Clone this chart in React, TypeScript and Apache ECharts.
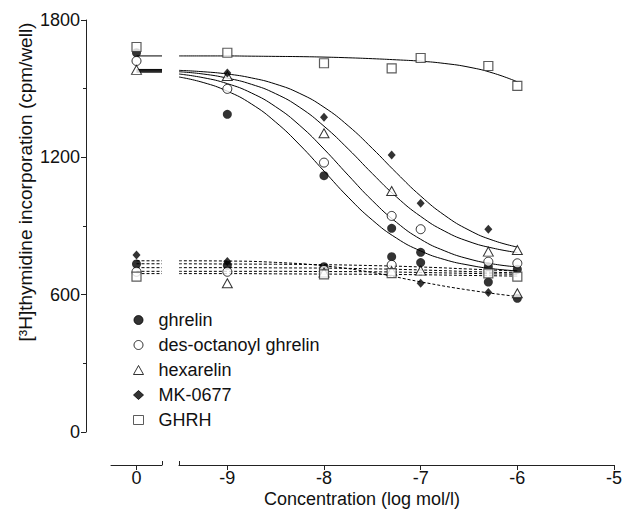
import React, { useEffect, useRef } from 'react';
import * as echarts from 'echarts';

const FONT = "'Liberation Sans', Arial, Helvetica, sans-serif";
const INK = '#111';

// compounds (legend order)
const NAMES = ['ghrelin', 'des-octanoyl ghrelin', 'hexarelin', 'MK-0677', 'GHRH'];

// concentrations (log mol/l)
const CONC = [-9, -8, -7.3, -7, -6.3, -6];
const X_TICKS = [-9, -8, -7, -6, -5];
const Y_TICK_STEP = 600;

// stimulated (upper) measurements: control value, then one per concentration
const CTRL_STIM = [1657, 1621, 1582, null, 1682];
const ghrelinStim = [1388, 1120, 890, 785, 722, 711];
const desStim = [1499, 1177, 944, 886, 744, 737];
const hexStim = [1555, 1305, 1053, null, 788, 795];
const mkStim = [1568, 1375, 1210, 999, 886, null];
const ghrhStim = [1657, 1611, 1589, 1634, 1599, 1512];

// basal (lower) measurements
const CTRL_BASAL = [734, 700, null, 773, 679];
const ghrelinBasal = [728, 722, 766, 740, 655, 584];
const desBasal = [700, 708, 730, null, null, null];
const hexBasal = [650, 697, 703, 705, null, 606];
const mkBasal = [745, null, null, 650, 609, null];
const ghrhBasal = [null, 689, 694, null, 693, 679];

// fitted curves
const FIT_X = [-9.5, -9.25, -9, -8.75, -8.5, -8.25, -8, -7.75, -7.5, -7.25, -7, -6.75, -6.5, -6.25, -6];
const ghrelinFit = [1551, 1527, 1489, 1433, 1354, 1254, 1140, 1026, 926, 847, 791, 753, 729, 713, 704];
const desFit = [1564, 1548, 1522, 1481, 1421, 1339, 1236, 1122, 1011, 916, 842, 791, 756, 734, 721];
const hexFit = [1574, 1564, 1546, 1519, 1478, 1418, 1336, 1237, 1129, 1027, 942, 877, 832, 803, 784];
const mkFit = [1580, 1574, 1564, 1547, 1520, 1479, 1419, 1338, 1239, 1132, 1031, 946, 882, 837, 808];
const ghrhFit = [1643, 1643, 1643, 1642, 1641, 1640, 1638, 1635, 1631, 1626, 1620, 1610, 1594, 1568, 1530];

const BASAL_X = [-9.5, -9, -8.5, -8, -7.5, -7, -6.5, -6];
const ghrelinBasalFit = [735, 734, 733, 731, 727, 721, 712, 703];
const desBasalFit = [718, 718, 717, 716, 713, 708, 701, 695];
const hexBasalFit = [702, 702, 702, 701, 700, 697, 693, 689];
const mkBasalFit = [748, 747, 741, 726, 697, 656, 620, 592];
const ghrhBasalFit = [692, 692, 691, 690, 689, 687, 684, 681];

// control-segment fit levels
const CTRL_FIT_TOP = [1572, 1576, 1580, 1584, 1643];
const CTRL_FIT_BASAL = [735, 718, 702, 748, 692];

const STIM = [ghrelinStim, desStim, hexStim, mkStim, ghrhStim];
const BASAL = [ghrelinBasal, desBasal, hexBasal, mkBasal, ghrhBasal];
const FITS = [ghrelinFit, desFit, hexFit, mkFit, ghrhFit];
const BASAL_FITS = [ghrelinBasalFit, desBasalFit, hexBasalFit, mkBasalFit, ghrhBasalFit];

const MARKERS: any[] = [
  { symbol: 'circle', symbolSize: 9, itemStyle: { color: '#000', borderColor: '#000', borderWidth: 0 } },
  { symbol: 'circle', symbolSize: 9, itemStyle: { color: '#fff', borderColor: '#000', borderWidth: 1 } },
  { symbol: 'triangle', symbolSize: [10, 9], itemStyle: { color: '#fff', borderColor: '#000', borderWidth: 1 } },
  { symbol: 'diamond', symbolSize: [8, 9], itemStyle: { color: '#000', borderColor: '#000', borderWidth: 0 } },
  { symbol: 'rect', symbolSize: 9, itemStyle: { color: '#fff', borderColor: '#333', borderWidth: 1.2 } },
];

const pairs = (xs: number[], ys: (number | null)[]) =>
  xs.map((x, i) => [x, ys[i]]).filter((p) => p[1] !== null);

function buildOption() {
  const series: any[] = [];
  const lineBase = { type: 'line', symbol: 'none', silent: true, z: 1, animation: false };
  NAMES.forEach((_, i) => {
    series.push({ ...lineBase, name: 'fit' + i, xAxisIndex: 2, yAxisIndex: 1, smooth: true,
      data: pairs(FIT_X, FITS[i]), lineStyle: { color: '#000', width: 1 } });
    series.push({ ...lineBase, name: 'basalfit' + i, xAxisIndex: 2, yAxisIndex: 1, smooth: true,
      data: pairs(BASAL_X, BASAL_FITS[i]), lineStyle: { color: '#000', width: 1, type: [3, 2] } });
    series.push({ ...lineBase, name: 'cfit' + i, xAxisIndex: 0, yAxisIndex: 0,
      data: [[0, CTRL_FIT_TOP[i]], [1, CTRL_FIT_TOP[i]]], lineStyle: { color: '#000', width: 1 } });
    series.push({ ...lineBase, name: 'cbfit' + i, xAxisIndex: 0, yAxisIndex: 0,
      data: [[0, CTRL_FIT_BASAL[i]], [1, CTRL_FIT_BASAL[i]]], lineStyle: { color: '#000', width: 1, type: [3, 2] } });
  });
  NAMES.forEach((name, i) => {
    series.push({ type: 'scatter', name, xAxisIndex: 2, yAxisIndex: 1, z: 5, silent: true,
      ...MARKERS[i], data: [...pairs(CONC, STIM[i]), ...pairs(CONC, BASAL[i])] });
  });
  NAMES.forEach((name, i) => {
    series.push({ type: 'scatter', name, xAxisIndex: 0, yAxisIndex: 0, z: 5, silent: true,
      ...MARKERS[i], data: pairs([0, 0], [CTRL_STIM[i], CTRL_BASAL[i]]) });
  });

  const axisLineStyle = { color: '#222', width: 1 };
  const label = { fontSize: 18, color: INK, fontFamily: FONT };

  return {
    animation: false,
    backgroundColor: '#fff',
    textStyle: { fontFamily: FONT },
    grid: [
      { left: 111, top: 20, width: 51, height: 412, outerBoundsMode: 'none' },
      { left: 179, top: 20, width: 435, height: 412, outerBoundsMode: 'none' },
    ],
    xAxis: [
      { type: 'value', gridIndex: 0, min: -1, max: 1, position: 'bottom', offset: 33,
        axisLine: { show: true, onZero: false, lineStyle: axisLineStyle },
        axisTick: { show: true, length: 5, customValues: [0], lineStyle: axisLineStyle },
        axisLabel: { ...label, margin: 4, customValues: [0] }, splitLine: { show: false } },
      { type: 'value', gridIndex: 0, min: -1, max: 1, position: 'bottom', offset: 33,
        axisLine: { show: false, onZero: false },
        axisTick: { show: true, inside: true, length: 4, customValues: [1], lineStyle: axisLineStyle },
        axisLabel: { show: false }, splitLine: { show: false } },
      { type: 'value', gridIndex: 1, min: -9.5, max: -5, position: 'bottom', offset: 33,
        axisLine: { show: true, onZero: false, lineStyle: axisLineStyle },
        axisTick: { show: true, length: 5, customValues: X_TICKS, lineStyle: axisLineStyle },
        axisLabel: { ...label, margin: 4, customValues: X_TICKS }, splitLine: { show: false } },
      { type: 'value', gridIndex: 1, min: -9.5, max: -5, position: 'bottom', offset: 33,
        axisLine: { show: false, onZero: false },
        axisTick: { show: true, inside: true, length: 4, customValues: [-9.5], lineStyle: axisLineStyle },
        axisLabel: { show: false }, splitLine: { show: false } },
    ],
    yAxis: [
      { type: 'value', gridIndex: 0, min: 0, max: 1800, interval: Y_TICK_STEP, position: 'left', offset: 25,
        name: '[³H]thymidine incorporation (cpm/well)', nameLocation: 'middle', nameRotate: 90, nameGap: 51,
        nameTextStyle: { fontSize: 19, color: INK, fontFamily: FONT, padding: [0, 0, 0, 88] },
        axisLine: { show: true, onZero: false, lineStyle: axisLineStyle },
        axisTick: { show: true, length: 5, lineStyle: axisLineStyle },
        minorTick: { show: true, splitNumber: 2, length: 3, lineStyle: axisLineStyle },
        axisLabel: { ...label, margin: 6, formatter: (v: number) => String(v) }, splitLine: { show: false } },
      { type: 'value', gridIndex: 1, min: 0, max: 1800, show: false },
    ],
    legend: {
      data: NAMES, orient: 'vertical', left: 128, top: 306, itemWidth: 10, itemHeight: 9, itemGap: 7,
      selectedMode: false, textStyle: { ...label, lineHeight: 18, padding: [0, 0, 0, 10] },
      itemStyle: { borderWidth: 1 },
    },
    graphic: [
      { type: 'text', x: 362, y: 499,
        style: { text: 'Concentration (log mol/l)', fontSize: 18, fontFamily: FONT, fill: INK,
          align: 'center', verticalAlign: 'middle', textAlign: 'center', textVerticalAlign: 'middle' } },
    ],
    series,
  };
}

export default function App() {
  const ref = useRef<HTMLDivElement>(null);
  useEffect(() => {
    const chart = echarts.init(ref.current!, null, { renderer: 'svg' });
    chart.setOption(buildOption() as any);
    return () => chart.dispose();
  }, []);
  return <div ref={ref} style={{ position: 'fixed', left: 0, top: 0, width: 622, height: 513, background: '#fff' }} />;
}
